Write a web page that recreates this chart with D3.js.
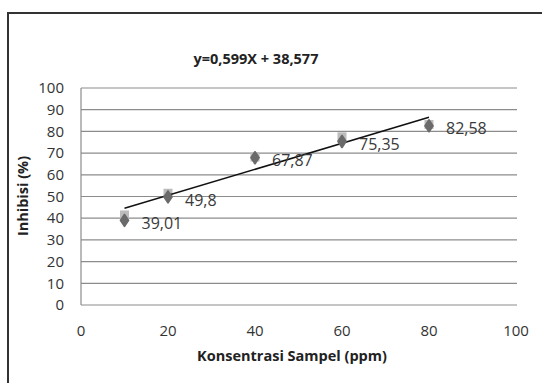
<!DOCTYPE html>
<html><head><meta charset="utf-8">
<script src="https://cdn.jsdelivr.net/npm/d3@7"></script>
<style>body{margin:0;background:#fff}svg{display:block}</style>
</head><body><svg id="c" width="542" height="383"></svg>
<script>
const concentrations = [10, 20, 40, 60, 80];
const inhibition = [39.01, 49.8, 67.87, 75.35, 82.58];
const inhibitionShadow = [41.5, 51.5, 68.2, 77.5, 83.2];
const dataLabels = ["39,01", "49,8", "67,87", "75,35", "82,58"];
const xTicks = [0, 20, 40, 60, 80, 100];
const yTicks = [0, 10, 20, 30, 40, 50, 60, 70, 80, 90, 100];
const slope = 0.599, intercept = 38.577;
const titleText = "y=0,599X + 38,577";
const xTitle = "Konsentrasi Sampel (ppm)";
const yTitle = "Inhibisi (%)";

const svg = d3.select("#c");
const font = "'Open Sans', 'Noto Sans', sans-serif";
// outer frame
svg.append("rect").attr("x", 8).attr("y", 13).attr("width", 560).attr("height", 400)
  .attr("fill", "none").attr("stroke", "#333").attr("stroke-width", 2);

const x = d3.scaleLinear().domain([0, 100]).range([81, 516]);
const y = d3.scaleLinear().domain([0, 100]).range([305, 88]);

// gridlines
svg.append("g").selectAll("line").data(yTicks).join("line")
  .attr("x1", 81).attr("x2", 517).attr("y1", d => y(d)).attr("y2", d => y(d))
  .attr("stroke", "#8c8c8c").attr("stroke-width", 1.2);
svg.append("line").attr("x1", 81).attr("x2", 81).attr("y1", y(100)).attr("y2", y(0))
  .attr("stroke", "#8c8c8c").attr("stroke-width", 1.2);

// y tick labels
svg.append("g").selectAll("text").data(yTicks).join("text")
  .attr("x", 64).attr("y", d => y(d)).attr("dy", "0.35em").attr("text-anchor", "end")
  .attr("font-family", font).attr("font-size", 15).attr("fill", "#333").text(d => d);
// x tick labels
svg.append("g").selectAll("text").data(xTicks).join("text")
  .attr("x", d => x(d)).attr("y", 336).attr("text-anchor", "middle")
  .attr("font-family", font).attr("font-size", 15).attr("fill", "#333").text(d => d);

// titles
svg.append("text").attr("x", 256).attr("y", 64).attr("text-anchor", "middle")
  .attr("font-family", font).attr("font-size", 14.5).attr("font-weight", "bold").attr("fill", "#222").text(titleText);
svg.append("text").attr("x", 292).attr("y", 361).attr("text-anchor", "middle")
  .attr("font-family", font).attr("font-size", 14.5).attr("font-weight", "bold").attr("fill", "#222").text(xTitle);
svg.append("text").attr("transform", "translate(28,196) rotate(-90)").attr("text-anchor", "middle")
  .attr("font-family", font).attr("font-size", 14.5).attr("font-weight", "bold").attr("fill", "#222").text(yTitle);

// shadow series (light squares)
svg.append("g").selectAll("rect").data(concentrations).join("rect")
  .attr("x", (d) => x(d) - 4.5).attr("y", (d, i) => y(inhibitionShadow[i]) - 4.5)
  .attr("width", 9).attr("height", 9).attr("fill", "#bcbcbc");

// trendline
svg.append("line")
  .attr("x1", x(concentrations[0])).attr("y1", y(slope * concentrations[0] + intercept))
  .attr("x2", x(concentrations[4])).attr("y2", y(slope * concentrations[4] + intercept))
  .attr("stroke", "#111").attr("stroke-width", 1.5);

// diamonds (blobby markers)
svg.append("g").selectAll("path").data(concentrations).join("path")
  .attr("transform", (d, i) => `translate(${x(d)},${y(inhibition[i])}) scale(1.15,1)`)
  .attr("d", d3.symbol(d3.symbolDiamond, 42)).attr("fill", "#6a6a6a")
  .attr("stroke", "#6a6a6a").attr("stroke-width", 1.5).attr("stroke-linejoin", "round");

// data labels
svg.append("g").selectAll("text").data(concentrations).join("text")
  .attr("x", d => x(d) + 17).attr("y", (d, i) => y(inhibition[i]) + 3).attr("dy", "0.35em")
  .attr("font-family", font).attr("font-size", 16).attr("fill", "#3a3a3a").text((d, i) => dataLabels[i]);
</script></body></html>
